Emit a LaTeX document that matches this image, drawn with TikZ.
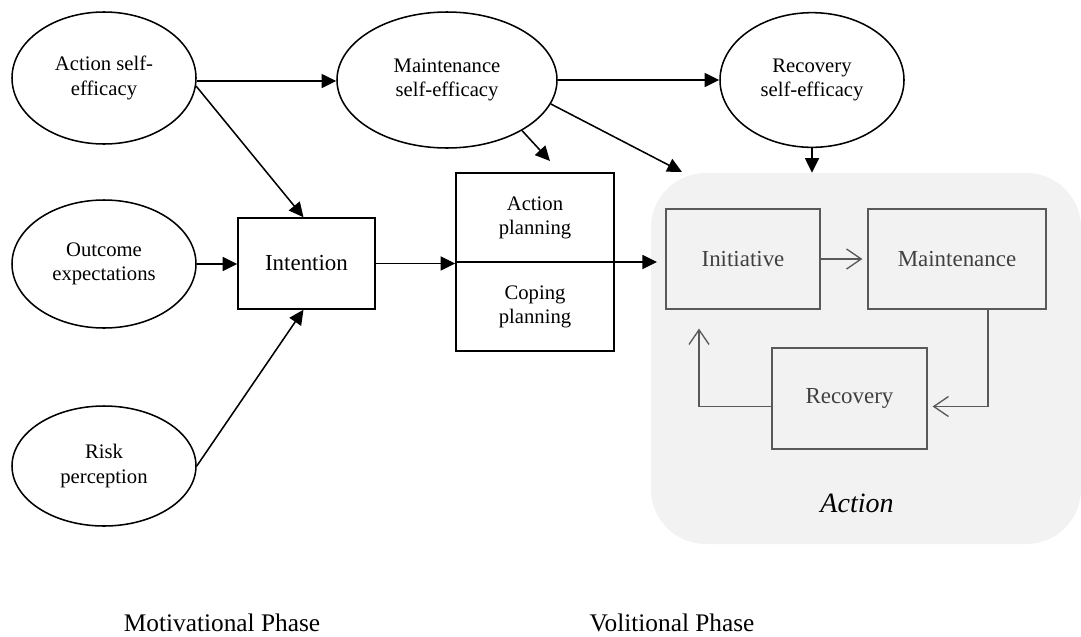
\documentclass[tikz,border=0pt]{standalone}
\usepackage{fontspec}
\setmainfont{Liberation Serif}
\usetikzlibrary{shapes.geometric,arrows.meta,calc}
\definecolor{regiongray}{HTML}{F2F2F2}
\definecolor{boxgray}{HTML}{595959}
\definecolor{txtgray}{HTML}{404040}
\begin{document}
\begin{tikzpicture}[x=0.75pt,y=-0.75pt,
  oval/.style={ellipse,draw,line width=1.15pt,inner sep=0pt,align=center,
    font=\fontsize{15.5}{18.5}\selectfont},
  blackbox/.style={draw,line width=1.1pt,inner sep=0pt,align=center},
  graybox/.style={draw=boxgray,line width=0.9pt,inner sep=0pt,text=txtgray,
    minimum height=75pt,font=\fontsize{17.2}{20}\selectfont},
  link/.style={line width=1.15pt,-{Triangle[length=11pt,width=10.5pt]}},
  cyclearrow/.style={draw=boxgray,line width=1pt,-{Straight Barb[length=11pt,width=15pt]}},
  phase/.style={font=\fontsize{19}{22}\selectfont}
]
\useasboundingbox (0,0) rectangle (1081,636);

% volitional action region
\node[fill=regiongray,rounded corners=41pt,minimum width=322.5pt,minimum height=278.25pt,
  inner sep=0pt] (act) at (866,358.5) {};

% motivational constructs
\node[oval,minimum width=138pt,minimum height=99pt] (ase) at (104,78) {Action self-\\efficacy};
\node[oval,minimum width=138pt,minimum height=96pt] (oe) at (104,264) {Outcome\\expectations};
\node[oval,minimum width=138pt,minimum height=90pt] (rp) at (104,466) {Risk\\perception};
\node[oval,minimum width=165pt,minimum height=102pt] (mse) at (447,80) {Maintenance\\self-efficacy};
\node[oval,minimum width=138pt,minimum height=101pt] (rse) at (812,80) {Recovery\\self-efficacy};

\node[blackbox,minimum width=102.75pt,minimum height=68.25pt,
  font=\fontsize{17.2}{20}\selectfont] (int) at (306.5,263.5) {Intention};

% planning box with its two halves
\node[blackbox,minimum width=118.5pt,minimum height=133.5pt] (plan) at (535,262) {};
\node[align=center,font=\fontsize{15.5}{18.5}\selectfont] (ap) at (535,218) {Action\\planning};
\node[align=center,font=\fontsize{15.5}{18.5}\selectfont] (cp) at (535,307) {Coping\\planning};

% action cycle
\node[graybox,minimum width=115.5pt] (ini) at (743,259) {Initiative};
\node[graybox,minimum width=133.5pt] (mai) at (957,259) {Maintenance};
\node[graybox,minimum width=116.25pt,minimum height=75.75pt] (rec) at (849.5,398.5) {Recovery};
\node[font=\itshape\fontsize{21}{24}\selectfont] (actlbl) at (857,503) {Action};

% phase captions
\node[phase] (mot) at (222,623) {Motivational Phase};
\node[phase] (vol) at (672,623) {Volitional Phase};

% free arrow tips
\coordinate (plantip) at (550,161);
\coordinate (acttip) at (682,172);
\coordinate (initip) at (657,262);

% connectors
\draw[link] ($(ase.east)+(0,3)$) -- ($(ase.east -| mse.west)+(0,3)$);
\draw[link] (ase.-5) -- ($(int.north)+(-3,0)$);
\draw[link] (oe.east) -- (oe.east -| int.west);
\draw[link] (rp.east) -- ($(int.south)+(-3,0)$);
\draw[link] (int.east) -- (int.east -| plan.west);
\draw[link] (plan.west) -- (initip);
\draw[link] (mse.-34) -- (plantip);
\draw[link] (mse.-13) -- (acttip);
\draw[link] (mse.east) -- (rse.west);
\draw[link] (rse.south) -- (rse.south |- act.north);

\draw[cyclearrow] (ini.east) -- ($(mai.west)+(-5,0)$);
\draw[cyclearrow] ($(mai.south)+(31,0)$) |- ($(rec.east)+(5,8)$);
\draw[cyclearrow] ($(rec.west)+(0,8)$) -| ($(ini.south)+(-44,19)$);
\end{tikzpicture}
\end{document}
